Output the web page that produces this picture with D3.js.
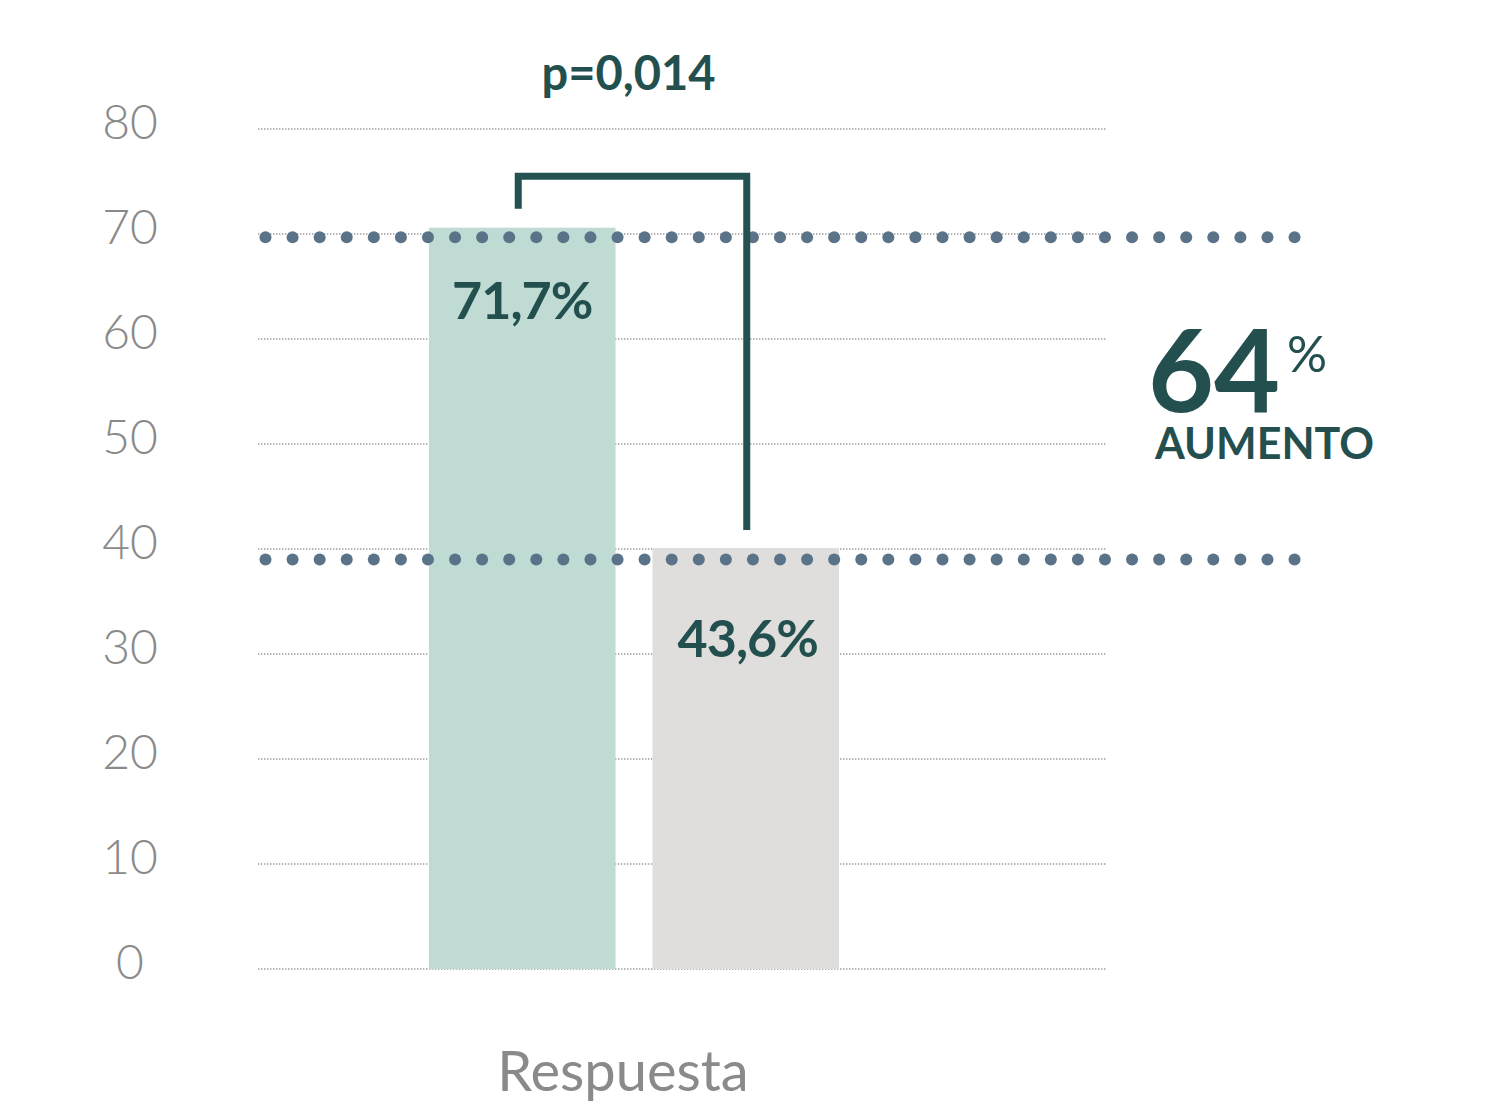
<!DOCTYPE html>
<html>
<head>
<meta charset="utf-8">
<script src="https://cdn.jsdelivr.net/npm/d3@7"></script>
<style>
  html, body { margin: 0; padding: 0; background: #ffffff; }
  svg { display: block; }
</style>
</head>
<body>
<svg id="chart" width="1500" height="1112"></svg>
<script>
// ---------- data ----------
const category = ["Respuesta"];
const seriesKeys = ["grupo1", "grupo2"];
const seriesValues = [70.6, 40.1];            // bar heights as drawn
const seriesLabels = ["71,7%", "43,6%"];      // printed values
const yTicks = [0, 10, 20, 30, 40, 50, 60, 70, 80];
const refLines = [69.7, 39.0];                 // dotted reference levels
const pValueText = "p=0,014";
const increaseValue = "64";
const increaseUnit = "%";
const increaseText = "AUMENTO";

// ---------- styles / layout ----------
const textDark = "#23504f";
const axisGrey = "#8a8a8a";
const barColors = ["#bfdbd3", "#dfdedc"];
const dotColor = "#5a7389";
const fontFam = "Lato, 'Open Sans', sans-serif";

const svg = d3.select("#chart");

const y = d3.scaleLinear().domain([0, 80]).range([969, 129]);
const x0 = d3.scaleBand().domain(category).range([429, 839]);
const x1 = d3.scaleBand().domain(seriesKeys).range([0, x0.bandwidth()]).paddingInner(0.1655);

const gridX0 = 258, gridX1 = 1106;

// gridlines
svg.append("g").selectAll("line")
  .data(yTicks).join("line")
  .attr("x1", gridX0).attr("x2", gridX1)
  .attr("y1", d => y(d)).attr("y2", d => y(d))
  .attr("stroke", "#9a9a9a")
  .attr("stroke-width", 1.6)
  .attr("stroke-dasharray", "1.4 1.6");

// y axis labels
const yAxis = d3.axisLeft(y).tickValues(yTicks).tickSize(0).tickPadding(0);
const gAxis = svg.append("g").attr("transform", "translate(130,0)").call(yAxis);
gAxis.select(".domain").remove();
gAxis.selectAll("text")
  .attr("text-anchor", "middle")
  .attr("dy", "0.32em")
  .attr("transform", "translate(0,-6)")
  .attr("fill", axisGrey)
  .style("font-family", fontFam)
  .style("font-weight", 300)
  .style("font-size", "48px");

// bars
const bars = seriesKeys.map((k, i) => ({ key: k, value: seriesValues[i], label: seriesLabels[i], i }));
const gBars = svg.append("g").attr("transform", `translate(${x0(category[0])},0)`);
gBars.selectAll("rect")
  .data(bars).join("rect")
  .attr("x", d => x1(d.key))
  .attr("width", x1.bandwidth())
  .attr("y", d => y(d.value))
  .attr("height", d => y(0) - y(d.value))
  .attr("fill", (d) => barColors[d.i]);

// bar value labels
const labelDy = [91, 109];
gBars.selectAll("text.val")
  .data(bars).join("text")
  .attr("class", "val")
  .attr("x", d => x1(d.key) + x1.bandwidth() / 2 + (d.i === 1 ? 2 : 0))
  .attr("y", d => y(d.value) + labelDy[d.i])
  .attr("text-anchor", "middle")
  .attr("fill", textDark)
  .style("font-family", fontFam)
  .style("font-weight", 700)
  .style("font-size", "52px")
  .style("letter-spacing", "-1px")
  .text(d => d.label);

// dotted reference lines (big dots)
const dotX0 = 265.5, dotStep = 27.08, dotCount = 39;
const dotsData = [];
refLines.forEach(v => d3.range(dotCount).forEach(j => dotsData.push({ x: dotX0 + j * dotStep, y: y(v) })));
svg.append("g").selectAll("circle")
  .data(dotsData).join("circle")
  .attr("cx", d => d.x).attr("cy", d => d.y)
  .attr("r", 6)
  .attr("fill", dotColor);

// significance bracket
const cx = bars.map(d => x0(category[0]) + x1(d.key) + x1.bandwidth() / 2);
const bxL = cx[0] - 4, bxR = cx[1] + 1;
const bTop = y(75.5), bLeftEnd = y(72.4), bRightEnd = y(41.8);
svg.append("path")
  .attr("d", `M${bxL},${bLeftEnd} L${bxL},${bTop} L${bxR},${bTop} L${bxR},${bRightEnd}`)
  .attr("fill", "none")
  .attr("stroke", "#245252")
  .attr("stroke-width", 7)
  .attr("stroke-linejoin", "miter");

svg.append("text")
  .attr("x", (bxL + bxR) / 2 - 4)
  .attr("y", 90)
  .attr("text-anchor", "middle")
  .attr("fill", textDark)
  .style("font-family", fontFam)
  .style("font-weight", 700)
  .style("font-size", "47px")
  .text(pValueText);

// increase annotation (one text block: big number, unit, word)
const inc = svg.append("text")
  .attr("fill", textDark)
  .style("font-family", fontFam);
inc.append("tspan")
  .attr("x", 1148).attr("y", 412)
  .style("font-weight", 700)
  .style("font-size", "114px")
  .text(increaseValue);
inc.append("tspan")
  .attr("x", 1287).attr("y", 372)
  .style("font-weight", 400)
  .style("font-size", "50px")
  .text(increaseUnit);
inc.append("tspan")
  .attr("x", 1155).attr("y", 459)
  .style("font-weight", 700)
  .style("font-size", "43px")
  .text(increaseText);

// category label
svg.append("text")
  .attr("x", 623).attr("y", 1091)
  .attr("text-anchor", "middle")
  .attr("fill", axisGrey)
  .style("font-family", fontFam)
  .style("font-weight", 400)
  .style("font-size", "56px")
  .text(category[0]);
</script>
</body>
</html>
